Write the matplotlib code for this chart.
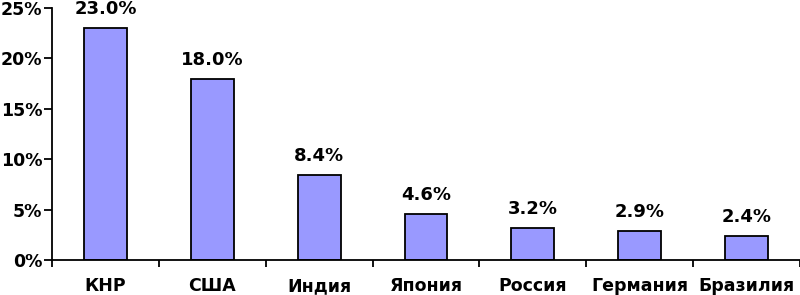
import numpy as np
import matplotlib.pyplot as plt
from matplotlib.ticker import FuncFormatter, FixedLocator

# Доля стран (%)
countries = ['КНР', 'США', 'Индия', 'Япония', 'Россия', 'Германия', 'Бразилия']
shares = [23.0, 18.0, 8.4, 4.6, 3.2, 2.9, 2.4]

fig = plt.figure(figsize=(8, 2.95), dpi=100)
ax = fig.add_axes([0.065, 0.119, 0.935, 0.854])

x = np.arange(len(countries))
ax.bar(x, shares, width=0.4, color='#9999FF', edgecolor='black', linewidth=1.3)

for xi, v in zip(x, shares):
    ax.annotate(f'{v:.1f}%', (xi, v), xytext=(0, 10), textcoords='offset points',
                ha='center', va='baseline', fontsize=13, fontweight='bold')

ax.set_xlim(-0.5, len(countries) - 0.5)
ax.set_ylim(0, 25)
ax.set_yticks([0, 5, 10, 15, 20, 25])
ax.yaxis.set_major_formatter(FuncFormatter(lambda v, p: f'{v:.0f}%'))

ax.set_xticks(x)
ax.set_xticklabels(countries, fontsize=12.5, fontweight='bold', va='baseline')
ax.xaxis.set_minor_locator(FixedLocator(np.arange(len(countries) + 1) - 0.5))
ax.tick_params(axis='x', which='major', length=0, pad=22.5)
ax.tick_params(axis='x', which='minor', length=5, width=1.3, direction='out')
ax.tick_params(axis='y', length=6, width=1.3, direction='out', pad=1)

for lbl in ax.get_yticklabels():
    lbl.set_fontsize(12.5)
    lbl.set_fontweight('bold')

for s in ['top', 'right']:
    ax.spines[s].set_visible(False)
for s in ['left', 'bottom']:
    ax.spines[s].set_linewidth(1.3)

fig.savefig('out.png', dpi=100, facecolor='white')
